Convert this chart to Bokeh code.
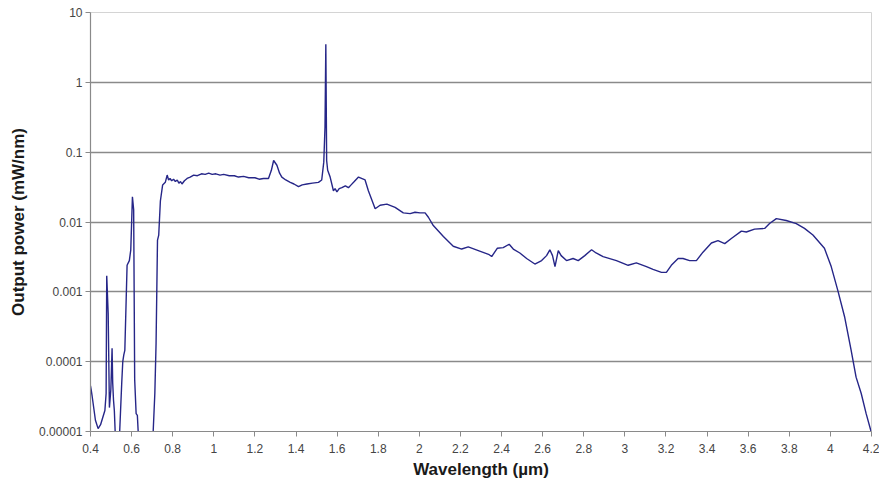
from bokeh.plotting import figure
from bokeh.models import FixedTicker, Range1d
from bokeh.embed import file_html
from bokeh.resources import INLINE

# Wavelength (µm) and output power (mW/nm); values below 1e-5 run off the chart
wavelength = [
    0.400, 0.403, 0.408, 0.424, 0.437, 0.449, 0.470, 0.476, 0.479, 0.486,
    0.492, 0.499, 0.505, 0.508, 0.512, 0.516, 0.520, 0.525, 0.537, 0.542,
    0.552, 0.557, 0.562, 0.567, 0.578, 0.589, 0.596, 0.604, 0.610, 0.615,
    0.622, 0.628, 0.632, 0.637, 0.700, 0.705, 0.713, 0.719, 0.726, 0.732,
    0.740, 0.751, 0.764, 0.773, 0.780, 0.787, 0.795, 0.804, 0.813, 0.822,
    0.830, 0.838, 0.845, 0.857, 0.870, 0.885,
    0.902, 0.920, 0.940, 0.958, 0.975, 0.992, 1.010, 1.030, 1.048, 1.075,
    1.100, 1.120, 1.145, 1.170, 1.200, 1.220, 1.242, 1.266,
    1.280, 1.291, 1.307, 1.320, 1.331, 1.350, 1.372, 1.390, 1.412, 1.430,
    1.453, 1.480, 1.509, 1.525, 1.535,
    1.541, 1.545, 1.549, 1.554, 1.566, 1.582, 1.590, 1.599, 1.610, 1.623,
    1.640, 1.655, 1.668, 1.680,
    1.704, 1.736, 1.752, 1.785, 1.809, 1.842, 1.882, 1.922, 1.955, 1.979,
    2.003, 2.028, 2.044, 2.068, 2.117, 2.165, 2.206, 2.238, 2.287, 2.340,
    2.352, 2.379, 2.408, 2.437, 2.457, 2.489, 2.522, 2.562, 2.595, 2.619,
    2.635, 2.648, 2.660, 2.676, 2.690, 2.716, 2.748, 2.773, 2.805, 2.838,
    2.860, 2.894, 2.959, 3.016, 3.056, 3.105, 3.137, 3.178, 3.202, 3.226,
    3.259, 3.283, 3.315, 3.348, 3.380, 3.421, 3.453, 3.486, 3.518, 3.567,
    3.591, 3.631, 3.680, 3.704, 3.737, 3.785, 3.834, 3.874, 3.915, 3.971,
    4.004, 4.036, 4.069, 4.101, 4.125, 4.150, 4.174, 4.198,
]
power = [
    4.5e-5, 4.0e-5, 3.2e-5, 1.45e-5, 1.1e-5, 1.25e-5, 2.0e-5, 3.5e-5, 1.7e-3, 4.9e-4,
    2.2e-5, 4.0e-5, 1.55e-4, 5.0e-5, 2.8e-5, 2.0e-5, 1.0e-5, 1e-7, 1e-7, 1.0e-5,
    5.0e-5, 1.0e-4, 1.25e-4, 1.45e-4, 2.4e-3, 2.8e-3, 4.0e-3, 2.3e-2, 1.5e-2, 5.5e-5,
    1.8e-5, 1.7e-5, 1.0e-5, 1e-7, 1e-7, 1.0e-5, 3.5e-5, 1.8e-4, 5.5e-3, 6.5e-3,
    0.020, 0.034, 0.037, 0.047, 0.040, 0.042, 0.039, 0.041, 0.038, 0.040,
    0.036, 0.038, 0.035, 0.039, 0.042, 0.044,
    0.047, 0.046, 0.049, 0.048, 0.050, 0.048, 0.049, 0.047, 0.048, 0.046,
    0.046, 0.044, 0.045, 0.043, 0.043, 0.041, 0.042, 0.042,
    0.055, 0.076, 0.065, 0.050, 0.044, 0.040, 0.037, 0.035, 0.032, 0.034,
    0.035, 0.036, 0.037, 0.040, 0.072,
    0.23, 3.5, 0.076, 0.055, 0.044, 0.028, 0.030, 0.027, 0.030, 0.031,
    0.033, 0.031, 0.034, 0.037,
    0.044, 0.040, 0.028, 0.0155, 0.0174, 0.018, 0.0162, 0.0135, 0.0132, 0.0138,
    0.0135, 0.0135, 0.0117, 0.0089, 0.0062, 0.0045, 0.0041, 0.0044, 0.0039, 0.0034,
    0.0032, 0.0042, 0.0043, 0.0048, 0.0041, 0.0036, 0.0030, 0.0025, 0.0028, 0.0033,
    0.0040, 0.0033, 0.0023, 0.0039, 0.0033, 0.0028, 0.0030, 0.0028, 0.0033, 0.0040,
    0.0036, 0.0032, 0.0028, 0.0024, 0.0026, 0.0023, 0.0021, 0.0019, 0.0019, 0.0024,
    0.0030, 0.0030, 0.0028, 0.0028, 0.0037, 0.0050, 0.0054, 0.0049, 0.0058, 0.0074,
    0.0072, 0.0079, 0.0081, 0.0095, 0.0112, 0.0105, 0.0095, 0.0081, 0.0065, 0.0042,
    0.0023, 0.00105, 0.00044, 0.000145, 6.0e-5, 3.5e-5, 1.8e-5, 1.0e-5,
]

x_ticks = [0.4, 0.6, 0.8, 1.0, 1.2, 1.4, 1.6, 1.8, 2.0, 2.2, 2.4, 2.6, 2.8, 3.0,
           3.2, 3.4, 3.6, 3.8, 4.0, 4.2]
x_labels = ["0.4", "0.6", "0.8", "1", "1.2", "1.4", "1.6", "1.8", "2", "2.2", "2.4",
            "2.6", "2.8", "3", "3.2", "3.4", "3.6", "3.8", "4", "4.2"]
y_ticks = [1e-5, 1e-4, 1e-3, 1e-2, 1e-1, 1.0, 10.0]
y_labels = ["0.00001", "0.0001", "0.001", "0.01", "0.1", "1", "10"]

x_title = "Wavelength (µm)"
y_title = "Output power (mW/nm)"

p = figure(width=879, height=482, y_axis_type="log", output_backend="svg",
           toolbar_location=None,
           x_range=Range1d(0.4, 4.2), y_range=Range1d(1e-5, 10),
           min_border_left=90, min_border_right=8, min_border_top=12,
           min_border_bottom=51)

p.line(wavelength, power, line_color="#262688", line_width=1.4)

p.background_fill_color = "white"
p.border_fill_color = "white"
p.outline_line_color = "#d4d4d4"

p.xgrid.grid_line_color = None
p.ygrid.grid_line_color = "#8a8a8a"
p.ygrid.grid_line_width = 1.3
p.ygrid.ticker = FixedTicker(ticks=y_ticks)

p.xaxis.ticker = FixedTicker(ticks=x_ticks)
p.xaxis.major_label_overrides = dict(zip(x_ticks, x_labels))
p.yaxis.ticker = FixedTicker(ticks=y_ticks, minor_ticks=[])
p.yaxis.major_label_overrides = dict(zip(y_ticks, y_labels))

for ax in (p.xaxis[0], p.yaxis[0]):
    ax.axis_line_color = "#8a8a8a"
    ax.axis_line_width = 1.2
    ax.major_tick_line_color = "#8a8a8a"
    ax.major_tick_in = 0
    ax.major_tick_out = 5
    ax.minor_tick_line_color = None
    ax.major_label_text_font = "Liberation Sans"
    ax.major_label_text_font_size = "12px"
    ax.major_label_text_color = "#444444"
    ax.axis_label_text_font = "Liberation Sans"
    ax.axis_label_text_font_size = "17px"
    ax.axis_label_text_font_style = "bold"
    ax.axis_label_text_color = "#1a1a1a"

p.xaxis.axis_label = x_title
p.yaxis.axis_label = y_title
p.xaxis.major_label_standoff = 7
p.xaxis.axis_label_standoff = 4
p.yaxis.major_label_standoff = 3
p.yaxis.axis_label_standoff = 8

open("out.html", "w").write(file_html(p, INLINE))
